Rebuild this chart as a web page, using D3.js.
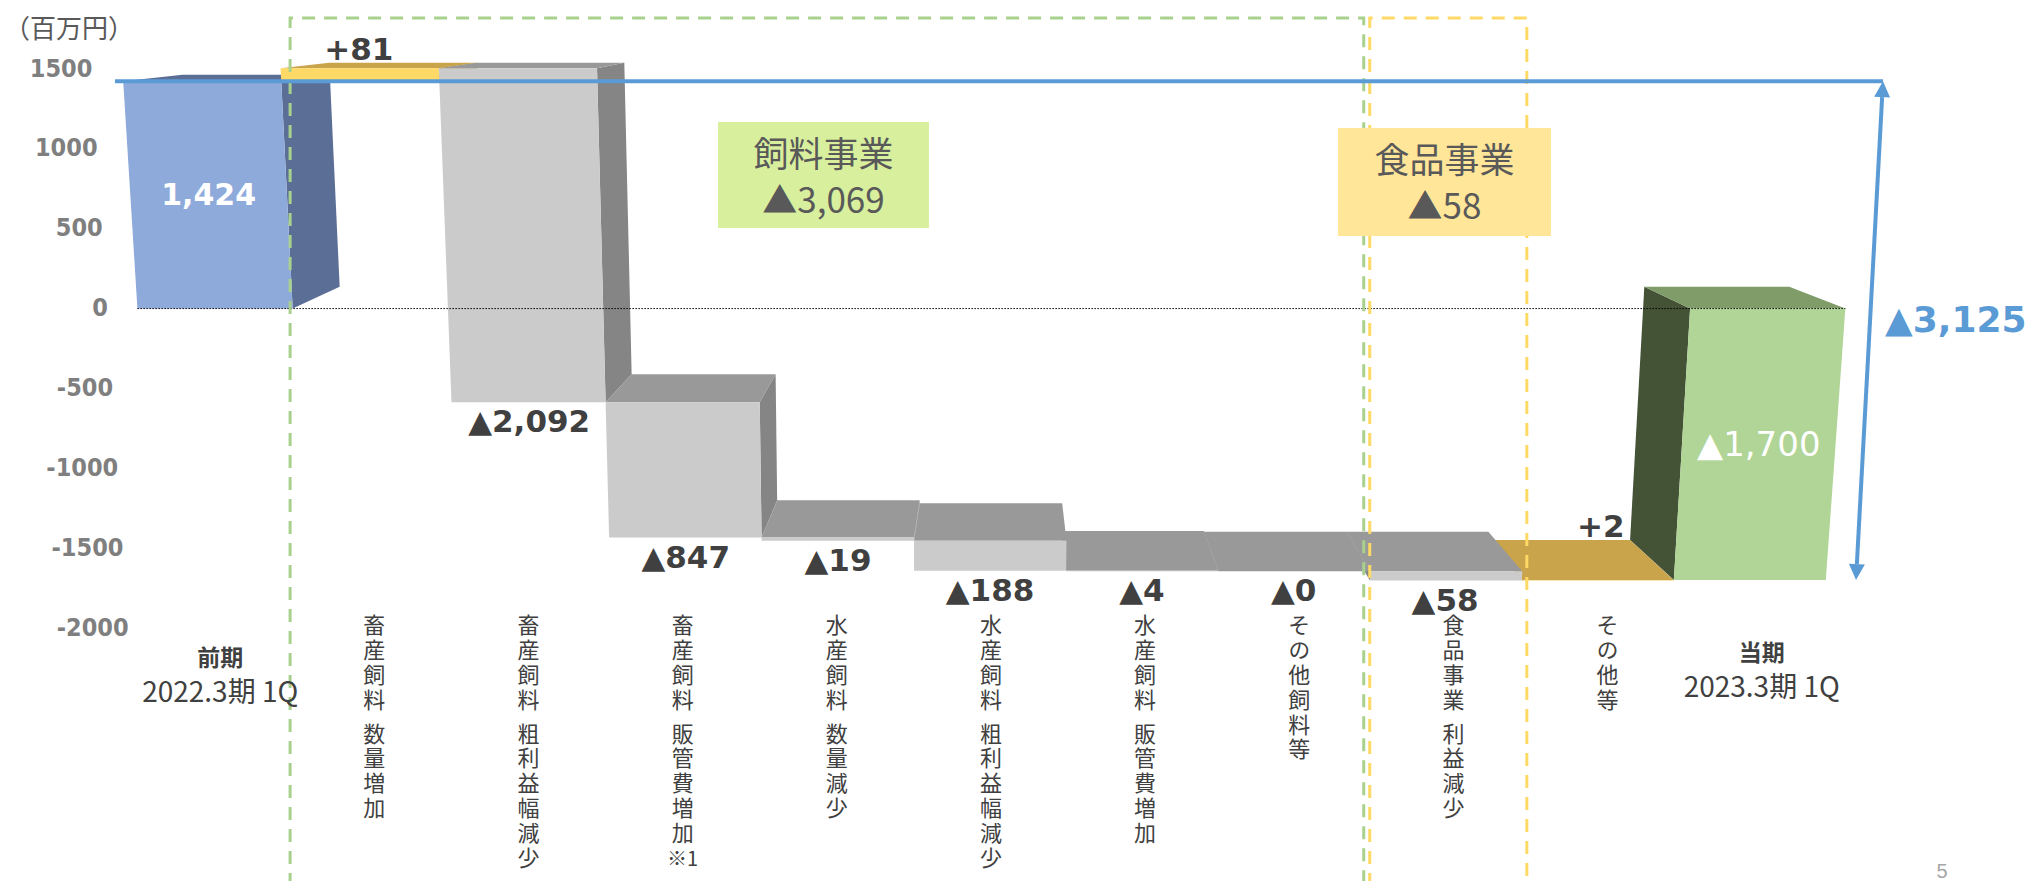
<!DOCTYPE html>
<html><head><meta charset="utf-8">
<script src="https://cdn.jsdelivr.net/npm/d3@7"></script>
<style>
html,body{margin:0;padding:0;background:#fff;}
svg{display:block;}
</style></head>
<body>
<svg id="chart" width="2033" height="881"></svg>
<script>
// ---------------- data ----------------
const categories = ["前期", "畜産飼料 数量増加", "畜産飼料 粗利益幅減少", "畜産飼料 販管費増加※1",
  "水産飼料 数量減少", "水産飼料 粗利益幅減少", "水産飼料 販管費増加", "その他飼料等",
  "食品事業 利益減少", "その他等", "当期"];
const periodSubLabels = ["2022.3期 1Q", "2023.3期 1Q"];
const values = [1424, 81, -2092, -847, -19, -188, -4, 0, -58, 2, -1700];
const kinds = ["total", "inc", "dec", "dec", "dec", "dec", "dec", "dec", "dec", "inc", "total"];
const valueLabels = ["1,424", "+81", "▲2,092", "▲847", "▲19", "▲188", "▲4", "▲0", "▲58", "+2", "▲1,700"];
const yTicks = [1500, 1000, 500, 0, -500, -1000, -1500, -2000];
const segmentNames = ["飼料事業", "食品事業"];
const segmentValues = ["▲3,069", "▲58"];
const segmentFrom = [1, 8];
const segmentTo = [7, 8];
const totalChangeLabel = "▲3,125";
const unitLabel = "（百万円）";
const pageNumber = "5";

// ---------------- layout ----------------
const W = 2033, H = 881;
const VPX = 1000, VPY = -11, K = 0.932;      // depth vanishing point
const VX = 930, YV = 13000, Y0 = 78;          // vertical convergence

const x = d3.scaleBand().domain(d3.range(categories.length)).range([123, 1862]).paddingInner(0).paddingOuter(0);
const y = d3.scaleLinear().domain([-2000, 1500]).range([628, 69]);
const bw = x.bandwidth();

function conv(px, py) { const f = (YV - py) / (YV - Y0); return VX + (px - VX) * f; }
function P(xf, yf, z) {
  const s = 1 - z * (1 - K);
  const x2 = VPX + (xf - VPX) * s, y2 = VPY + (yf - VPY) * s;
  return [conv(x2, y2), y2];
}
const poly = pts => "M" + pts.map(p => p[0].toFixed(2) + "," + p[1].toFixed(2)).join("L") + "Z";

const palette = {
  first: {front: "#8eaadb", top: "#5b6e96", side: "#5b6e96"},
  last:  {front: "#b0d596", top: "#7f9c69", side: "#445236"},
  inc:   {front: "#ffd966", top: "#c9a44a", side: "#b8943c"},
  dec:   {front: "#cbcbcb", top: "#999999", side: "#858585"}
};

// waterfall computation
let cum = 0;
const bars = values.map((d, i) => {
  let lo, hi;
  if (kinds[i] === "total") { lo = Math.min(0, d); hi = Math.max(0, d); cum = d; }
  else { const s = cum; cum = s + d; lo = Math.min(s, cum); hi = Math.max(s, cum); }
  const pal = kinds[i] === "total" ? (i === 0 ? palette.first : palette.last) : palette[kinds[i]];
  return {i, lo, hi, x0: x(i), x1: x(i) + bw, pal};
});

const svg = d3.select("#chart");
svg.append("rect").attr("width", W).attr("height", H).attr("fill", "#fff");

// ---------------- bars (3D) ----------------
const gBars = svg.append("g");
const order = bars.slice().sort((a, b) =>
  Math.abs((b.x0 + b.x1) / 2 - VPX) - Math.abs((a.x0 + a.x1) / 2 - VPX));
order.forEach(b => {
  const yt = y(b.hi), yb = y(b.lo);
  const g = gBars.append("g");
  if (b.x1 < VPX) {
    g.append("path").attr("d", poly([P(b.x1, yt, 0), P(b.x1, yt, 1), P(b.x1, yb, 1), P(b.x1, yb, 0)]))
      .attr("fill", b.pal.side);
  } else if (b.x0 > VPX) {
    g.append("path").attr("d", poly([P(b.x0, yt, 0), P(b.x0, yt, 1), P(b.x0, yb, 1), P(b.x0, yb, 0)]))
      .attr("fill", b.pal.side);
  }
  g.append("path").attr("d", poly([P(b.x0, yt, 0), P(b.x1, yt, 0), P(b.x1, yt, 1), P(b.x0, yt, 1)]))
    .attr("fill", b.pal.top);
  if (yb - yt > 0.01) {
    g.append("path").attr("d", poly([P(b.x0, yt, 0), P(b.x1, yt, 0), P(b.x1, yb, 0), P(b.x0, yb, 0)]))
      .attr("fill", b.pal.front);
  }
});

// zero line (dotted)
svg.append("line")
  .attr("x1", conv(x.range()[0], y(0))).attr("x2", conv(x.range()[1], y(0)))
  .attr("y1", y(0)).attr("y2", y(0))
  .attr("stroke", "#000").attr("stroke-width", 1).attr("stroke-dasharray", "1.5,1.5");

// ---------------- dashed segment frames ----------------
const frameStyle = [{c: "#a9d18e", l: 9, r: -24}, {c: "#ffd966", l: -18, r: -19}];
segmentNames.forEach((n, k) => {
  const xl = x(segmentFrom[k]) + frameStyle[k].l;
  const xr = x(segmentTo[k]) + bw + frameStyle[k].r;
  svg.append("path").attr("d", `M${xl},${H + 5}V18H${xr}V${H + 5}`)
    .attr("fill", "none").attr("stroke", frameStyle[k].c).attr("stroke-width", 3)
    .attr("stroke-dasharray", "13,9");
});

// ---------------- total change line + arrow ----------------
const blue = "#5b9bd5";
const yStart = y(values[0]), yEnd = y(values[values.length - 1]);
const axTop = 1883, axBot = 1856;
svg.append("line").attr("x1", 115).attr("x2", axTop).attr("y1", yStart).attr("y2", yStart)
  .attr("stroke", blue).attr("stroke-width", 4);
(function arrow() {
  const dx = axTop - axBot, dy = yStart - yEnd, L = Math.hypot(dx, dy);
  const ux = dx / L, uy = dy / L, nx = -uy, ny = ux;
  const hl = 16, hw = 8;
  const tb = [axTop - ux * hl, yStart - uy * hl];
  const bb = [axBot + ux * hl, yEnd + uy * hl];
  svg.append("line").attr("x1", tb[0]).attr("y1", tb[1]).attr("x2", bb[0]).attr("y2", bb[1])
    .attr("stroke", blue).attr("stroke-width", 4);
  svg.append("path").attr("d", poly([[axTop, yStart], [tb[0] + nx * hw, tb[1] + ny * hw], [tb[0] - nx * hw, tb[1] - ny * hw]])).attr("fill", blue);
  svg.append("path").attr("d", poly([[axBot, yEnd], [bb[0] + nx * hw, bb[1] + ny * hw], [bb[0] - nx * hw, bb[1] - ny * hw]])).attr("fill", blue);
})();
svg.append("text").attr("x", 1885).attr("y", y(-70)).attr("dominant-baseline", "central")
  .attr("font-family", "'DejaVu Sans', sans-serif").attr("font-weight", "bold").attr("font-size", 36)
  .attr("fill", blue).text(totalChangeLabel);

// ---------------- segment boxes ----------------
const boxes = [{x: 718, y: 122, w: 211, h: 106, fill: "#d8ef9d"}, {x: 1338, y: 128, w: 213, h: 108, fill: "#ffe699"}];
segmentNames.forEach((n, k) => {
  const b = boxes[k];
  svg.append("rect").attr("x", b.x).attr("y", b.y).attr("width", b.w).attr("height", b.h).attr("fill", b.fill);
  const t = svg.append("g").attr("font-family", "'Noto Sans CJK JP', sans-serif").attr("font-size", 35)
    .attr("fill", "#595959").attr("text-anchor", "middle");
  t.append("text").attr("x", b.x + b.w / 2).attr("y", b.y + 29).attr("dominant-baseline", "central").text(n);
  t.append("text").attr("x", b.x + b.w / 2).attr("y", b.y + 75).attr("dominant-baseline", "central").text(segmentValues[k]);
});

// ---------------- y axis ----------------
const gy = svg.append("g").attr("font-family", "'DejaVu Sans Condensed', 'Liberation Sans', sans-serif")
  .attr("font-weight", "bold").attr("font-size", 25).attr("fill", "#7f7f7f").attr("text-anchor", "end");
yTicks.forEach(v => {
  gy.append("text").attr("x", conv(93, y(v))).attr("y", y(v) - 1).attr("dominant-baseline", "central").text(v);
});
svg.append("text").attr("x", 4).attr("y", 26).attr("dominant-baseline", "central")
  .attr("font-family", "'Noto Sans CJK JP', sans-serif").attr("font-size", 26).attr("fill", "#595959")
  .text(unitLabel);

// ---------------- value labels ----------------
const gl = svg.append("g").attr("font-family", "'DejaVu Sans', sans-serif").attr("text-anchor", "middle");
bars.forEach(b => {
  const cx = (b.x0 + b.x1) / 2;
  let ly, fill = "#404040", weight = "bold", size = 31;
  if (kinds[b.i] === "total") {
    ly = (y(b.hi) + y(b.lo)) / 2; fill = "#fff";
    if (b.i !== 0) { weight = "normal"; size = 34; } else { size = 30; }
  } else if (kinds[b.i] === "dec") {
    ly = y(b.lo) + 19;
  } else {
    ly = P(cx, y(b.hi), 1)[1] - 14;
  }
  gl.append("text").attr("x", conv(cx, ly)).attr("y", ly).attr("dominant-baseline", "central")
    .attr("font-weight", weight).attr("font-size", size).attr("fill", fill).text(valueLabels[b.i]);
});

// ---------------- category labels ----------------
const gc = svg.append("g").attr("font-family", "'Noto Sans CJK JP', sans-serif").attr("fill", "#404040");
const vFont = 22, vPitch = 24.8, vGap = 9, vTop = 614;
categories.forEach((c, i) => {
  const lx = conv(x(i) + bw / 2, 400);
  if (kinds[i] === "total") {
    const k = i === 0 ? 0 : 1;
    gc.append("text").attr("x", lx).attr("y", 656 - 5 * k).attr("text-anchor", "middle")
      .attr("dominant-baseline", "central").attr("font-weight", "bold").attr("font-size", 23).text(c);
    gc.append("text").attr("x", lx).attr("y", 690 - 5 * k).attr("text-anchor", "middle")
      .attr("dominant-baseline", "central").attr("font-size", 28).text(periodSubLabels[k]);
  } else {
    let yy = vTop;
    c.split(" ").forEach(part => {
      const m = part.match(/^(.*?)(※\d+)$/);
      const main = m ? m[1] : part;
      gc.append("text").attr("x", lx).attr("y", yy)
        .style("writing-mode", "vertical-rl").style("text-orientation", "upright")
        .attr("font-size", vFont).attr("letter-spacing", vPitch - vFont).text(main);
      yy += main.length * vPitch;
      if (m) {
        gc.append("text").attr("x", lx).attr("y", yy + vFont / 2).attr("text-anchor", "middle")
          .attr("dominant-baseline", "central").attr("font-size", 20).text(m[2]);
        yy += vPitch;
      }
      yy += vGap;
    });
  }
});

svg.append("text").attr("x", 1942).attr("y", 878).attr("text-anchor", "middle")
  .attr("font-family", "'Liberation Sans', sans-serif").attr("font-size", 20).attr("fill", "#a6a6a6").text(pageNumber);
</script>
</body></html>
